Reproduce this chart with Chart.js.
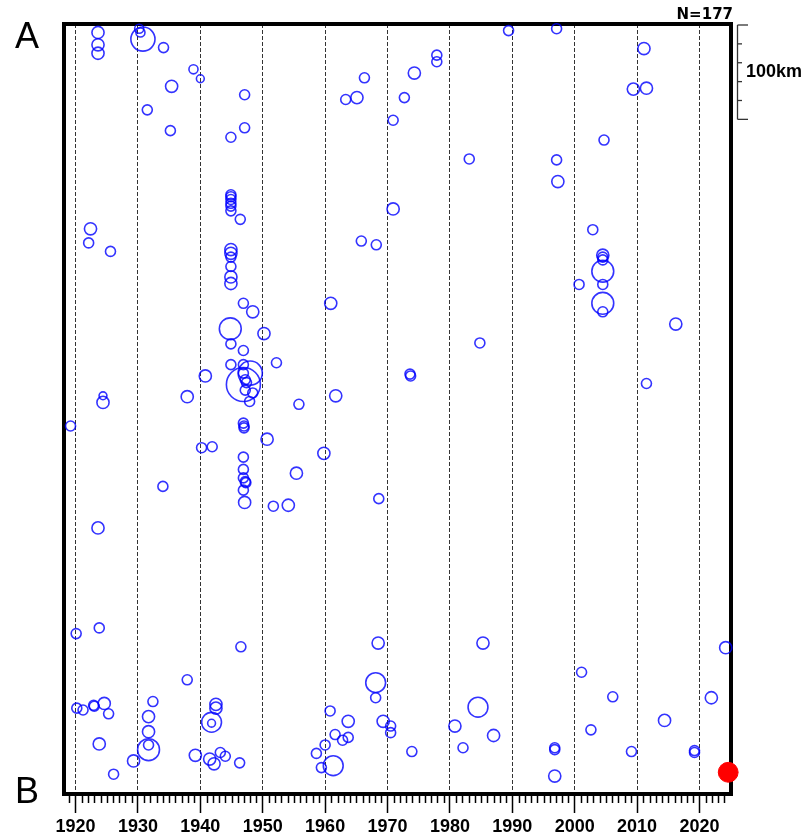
<!DOCTYPE html>
<html>
<head>
<meta charset="utf-8">
<script src="https://cdn.jsdelivr.net/npm/chart.js@4.4.1/dist/chart.umd.min.js"></script>
<style>
    html, body { margin: 0; padding: 0; background: #fff; }
    #wrap { width: 805px; height: 835px; }
</style>
</head>
<body>
<div id="wrap"><canvas id="stChart" width="805" height="835"></canvas></div>
<script>
// Event time (decimal year), distance from A along A-B (km), magnitude
const years = [
    1923.6, 1923.6, 1923.6, 1930.2, 1930.4, 1930.8, 1934.1, 1938.9, 1940.0, 1935.4,
    1947.1, 1931.5, 1935.2, 1947.1, 1944.9, 1944.9, 1944.9, 1944.9, 1944.9, 1944.9,
    1944.9, 1946.4, 1922.4, 1922.1, 1925.6, 1944.9, 1944.9, 1944.9, 1944.9, 1944.9,
    1944.9, 1946.9, 1948.4, 1944.8, 1950.2, 1944.9, 1946.9, 1952.2, 1944.9, 1946.9,
    1946.9, 1948.0, 1946.9, 1947.2, 1947.4, 1947.2, 1948.4, 1947.9, 1940.8, 1937.9,
    1955.8, 1946.9, 1947.0, 1947.0, 1950.7, 1940.2, 1941.9, 1959.8, 1946.9, 1946.9,
    1946.9, 1947.2, 1947.3, 1946.9, 1947.1, 1951.7, 1954.1, 1955.4, 1977.9, 1977.9,
    1974.3, 1966.3, 1965.1, 1963.3, 1972.7, 1970.9, 1983.1, 1970.9, 1965.8, 1968.2,
    1960.9, 1989.4, 1997.1, 2011.1, 2009.4, 2011.5, 2004.7, 1997.1, 1997.3, 2002.9,
    2004.5, 2004.5, 2004.5, 2004.5, 2000.7, 2004.5, 2004.5, 2004.5, 2016.2, 1984.8,
    1973.6, 1973.7, 2011.5, 1968.6, 1961.7, 1919.2, 1924.4, 1924.4, 1934.0, 1923.6,
    1920.1, 1923.8, 1946.5, 1937.9, 1920.2, 1921.2, 1922.9, 1923.0, 1924.6, 1925.3,
    1932.4, 1931.7, 1931.7, 1931.7, 1931.7, 1923.8, 1926.1, 1929.3, 1942.5, 1942.5,
    1941.8, 1941.8, 1939.2, 1941.5, 1942.2, 1943.2, 1944.0, 1946.3, 1960.8, 1963.7,
    1961.6, 1962.8, 1963.7, 1960.0, 1958.6, 1959.4, 1961.3, 1968.5, 1968.1, 1968.1,
    1969.3, 1970.5, 1970.5, 1973.9, 1980.8, 1982.1, 1985.3, 1984.5, 1987.0, 1996.8,
    1996.8, 1996.8, 2001.1, 2002.6, 2006.1, 2009.1, 2014.4, 2019.2, 2019.2, 2021.9,
    2024.2
];
const distKm = [
    9, 22, 31, 5, 9, 16, 25, 48, 58, 66,
    75, 91, 113, 110, 120, 181, 183, 186, 190, 193,
    198, 207, 217, 232, 241, 239, 243, 247, 257, 268,
    275, 296, 305, 323, 328, 339, 346, 359, 361, 361,
    382, 370, 370, 377, 380, 388, 391, 400, 373, 395,
    403, 423, 426, 428, 440, 449, 448, 455, 459, 472,
    481, 485, 486, 494, 507, 511, 510, 476, 33, 40,
    52, 57, 78, 80, 78, 102, 143, 196, 230, 234,
    296, 7, 5, 26, 69, 68, 123, 144, 167, 218,
    245, 247, 250, 262, 276, 276, 296, 305, 318, 338,
    371, 373, 381, 503, 394, 426, 394, 401, 490, 534,
    646, 640, 660, 695, 725, 727, 722, 723, 720, 731,
    718, 734, 750, 764, 769, 763, 795, 781, 721, 725,
    740, 741, 775, 779, 784, 772, 776, 783, 728, 739,
    753, 759, 756, 764, 773, 788, 786, 656, 698, 714,
    739, 744, 751, 771, 744, 767, 656, 724, 754, 767,
    769, 797, 687, 748, 713, 771, 738, 770, 772, 714,
    661
];
const mags = [
    5.9, 5.9, 5.9, 5.3, 5.3, 7.3, 5.5, 5.3, 5.0, 5.9,
    5.5, 5.5, 5.5, 5.5, 5.5, 5.5, 5.5, 5.5, 5.5, 5.5,
    5.5, 5.5, 5.9, 5.5, 5.5, 5.9, 5.9, 5.5, 5.5, 5.9,
    5.9, 5.5, 5.9, 7.1, 5.9, 5.5, 5.5, 5.5, 5.5, 5.5,
    8.0, 7.3, 5.5, 5.5, 5.5, 5.5, 5.5, 5.5, 5.9, 5.9,
    5.5, 5.5, 5.5, 5.5, 5.9, 5.5, 5.5, 5.9, 5.5, 5.5,
    5.5, 5.5, 5.5, 5.5, 5.9, 5.5, 5.9, 5.9, 5.5, 5.5,
    5.9, 5.5, 5.9, 5.5, 5.5, 5.5, 5.5, 5.9, 5.5, 5.5,
    5.9, 5.5, 5.5, 5.9, 5.9, 5.9, 5.5, 5.5, 5.9, 5.5,
    5.9, 5.5, 5.5, 7.1, 5.5, 5.5, 7.1, 5.5, 5.9, 5.5,
    5.5, 5.5, 5.5, 5.5, 5.9, 5.5, 5.0, 5.9, 5.5, 5.9,
    5.5, 5.5, 5.5, 5.5, 5.5, 5.5, 5.5, 5.5, 5.9, 5.5,
    5.5, 5.9, 5.9, 5.5, 7.1, 5.9, 5.5, 5.9, 5.9, 5.9,
    6.9, 5.0, 5.9, 5.9, 5.9, 5.5, 5.5, 5.5, 5.5, 5.9,
    5.5, 5.5, 5.5, 5.5, 5.5, 5.5, 6.9, 5.9, 6.9, 5.5,
    5.9, 5.5, 5.5, 5.5, 5.9, 5.5, 5.9, 6.9, 5.9, 5.5,
    5.5, 5.9, 5.5, 5.5, 5.5, 5.5, 5.9, 5.5, 5.5, 5.9,
    5.9
];

// Latest event (red)
const latestYear = [2024.6];
const latestKm = [793];
const latestMag = [6.9];

// Axis settings
const yearTicks = [1920, 1930, 1940, 1950, 1960, 1970, 1980, 1990, 2000, 2010, 2020];
const yearMin = 1918.15;
const yearMax = 2025.05;
const kmMax = 816;
const scaleBarKm = 100;
const eventCount = 'N=177';

// Magnitude -> circle radius (px)
function magToRadius(m) {
    return 5 * Math.pow(10, 0.2126 * (m - 5.5));
}

function buildPoints(xs, ys, ms) {
    return xs.map(function(x, i) {
        return { x: x, y: ys[i], r: magToRadius(ms[i]) };
    });
}

// Frame, minor ticks, labels, scale bar
const decorPlugin = {
    id: 'decor',
    beforeDatasetsDraw: function(chart) {
        const ctx = chart.ctx;
        const a = chart.chartArea;
        ctx.save();
        ctx.strokeStyle = '#000';
        ctx.lineWidth = 4;
        ctx.strokeRect(a.left, a.top, a.right - a.left, a.bottom - a.top);
        ctx.restore();
    },
    afterDraw: function(chart) {
        const ctx = chart.ctx;
        const a = chart.chartArea;
        const xs = chart.scales.x;
        const ys = chart.scales.y;
        ctx.save();

        // yearly minor ticks
        ctx.strokeStyle = '#000';
        ctx.lineWidth = 1.5;
        for (let yr = 1919; yr <= 2024; yr++) {
            if (yr % 10 === 0) continue;
            const px = Math.round(xs.getPixelForValue(yr)) + 0.5;
            ctx.beginPath();
            ctx.moveTo(px, a.bottom + 2);
            ctx.lineTo(px, a.bottom + 9);
            ctx.stroke();
        }

        // A / B labels
        ctx.fillStyle = '#000';
        ctx.font = '36px "Liberation Sans", Arial, sans-serif';
        ctx.textAlign = 'center';
        ctx.textBaseline = 'middle';
        ctx.fillText('A', 27, ys.getPixelForValue(0) + 14);
        ctx.fillText('B', 27, ys.getPixelForValue(kmMax) - 1);

        // N=
        ctx.font = 'bold 15px "DejaVu Sans", sans-serif';
        ctx.textAlign = 'right';
        ctx.textBaseline = 'alphabetic';
        ctx.fillText(eventCount, a.right + 2, 19);

        // 100 km scale bar
        const bx = a.right + 6.5;
        const top = ys.getPixelForValue(0) + 1;
        const bottom = ys.getPixelForValue(scaleBarKm) + 1;
        ctx.strokeStyle = '#333';
        ctx.lineWidth = 1.3;
        ctx.beginPath();
        ctx.moveTo(bx, top);
        ctx.lineTo(bx, bottom);
        ctx.stroke();
        for (let k = 0; k <= scaleBarKm; k += 20) {
            const py = ys.getPixelForValue(k) + 1;
            const len = (k === 0 || k === scaleBarKm) ? 10.5 : 4.5;
            ctx.beginPath();
            ctx.moveTo(bx, py);
            ctx.lineTo(bx + len, py);
            ctx.stroke();
        }
        ctx.font = 'bold 18px "Liberation Sans", Arial, sans-serif';
        ctx.textAlign = 'left';
        ctx.textBaseline = 'middle';
        ctx.fillText(scaleBarKm + 'km', bx + 8.5, (top + bottom) / 2);

        ctx.restore();
    }
};

document.addEventListener('DOMContentLoaded', function() {
    const ctx = document.getElementById('stChart');

    new Chart(ctx, {
        type: 'bubble',
        data: {
            datasets: [
                {
                    label: 'events',
                    data: buildPoints(years, distKm, mags),
                    borderColor: 'rgba(0, 0, 255, 0.8)',
                    backgroundColor: 'rgba(0, 0, 0, 0)',
                    borderWidth: 1.6,
                    clip: false
                },
                {
                    label: 'latest',
                    data: buildPoints(latestYear, latestKm, latestMag),
                    borderColor: '#ff0000',
                    backgroundColor: '#ff0000',
                    borderWidth: 1,
                    clip: false
                }
            ]
        },
        options: {
            responsive: false,
            animation: false,
            events: [],
            layout: {
                padding: { left: 64, right: 74, top: 24, bottom: 0 }
            },
            plugins: {
                legend: { display: false },
                tooltip: { enabled: false }
            },
            scales: {
                x: {
                    type: 'linear',
                    min: yearMin,
                    max: yearMax,
                    afterBuildTicks: function(scale) {
                        scale.ticks = yearTicks.map(function(v) { return { value: v }; });
                    },
                    afterFit: function(scale) {
                        scale.height = 41;
                    },
                    ticks: {
                        autoSkip: false,
                        maxRotation: 0,
                        padding: 3,
                        color: '#000',
                        font: { family: '"Liberation Sans", Arial, sans-serif', size: 18, weight: 'bold' },
                        callback: function(value) {
                            return String(value);
                        }
                    },
                    grid: {
                        color: '#333',
                        lineWidth: 1,
                        tickLength: 19,
                        tickColor: '#000',
                        tickWidth: 1.5
                    },
                    border: {
                        display: false,
                        dash: [4, 2]
                    }
                },
                y: {
                    type: 'linear',
                    min: 0,
                    max: kmMax,
                    reverse: true,
                    display: false
                }
            }
        },
        plugins: [decorPlugin]
    });
});
</script>
</body>
</html>
